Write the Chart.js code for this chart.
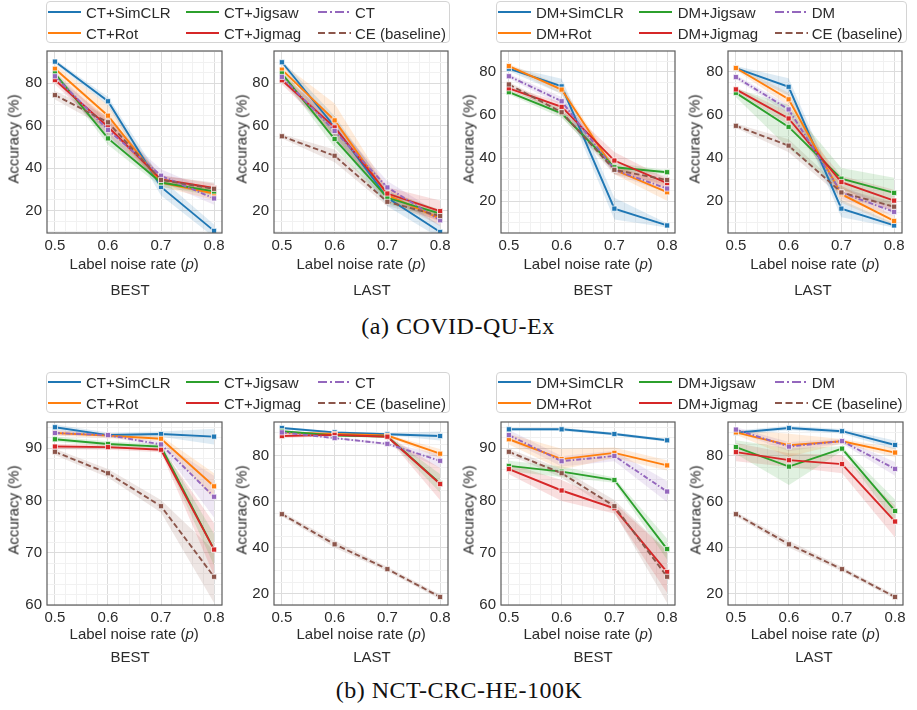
<!DOCTYPE html>
<html>
<head>
<meta charset="utf-8">
<script src="https://cdn.jsdelivr.net/npm/chart.js@4.4.0/dist/chart.umd.min.js"></script>
<style>
  body { margin: 0; background: #fff; }
  #fig { position: relative; width: 917px; height: 710px; overflow: hidden;
         font-family: "Liberation Sans", Arial, sans-serif; color: #2b2b2b; }
  .panel { position: absolute; }
  .txt { position: absolute; font-size: 15px; line-height: 1; white-space: nowrap; transform: translate(-50%, -50%); }
  .ylab { transform: translate(-50%, -50%) rotate(-90deg); }
  .legend { position: absolute; box-sizing: border-box; border: 1px solid #d4d4d4; border-radius: 4px; background: rgba(255,255,255,0.8); }
  .litem { position: absolute; font-size: 15px; line-height: 1; white-space: nowrap; transform: translateY(-50%); }
  .cap { position: absolute; font-family: "Liberation Serif", "DejaVu Serif", serif; font-size: 24px; letter-spacing: 0.5px;
         white-space: nowrap; transform: translate(-50%, -50%); color: #111; }
</style>
</head>
<body>
<div id="fig"></div>
<script>
// x values and tick labels
const noiseRates = [0.5, 0.6, 0.7, 0.8];
const yTicksCovid = [20, 40, 60, 80];
const yTicksNctBest = [60, 70, 80, 90];
const yTicksNctLast = [20, 40, 60, 80];

const ctNames = ["CT+SimCLR", "CT+Rot", "CT+Jigsaw", "CT+Jigmag", "CT", "CE (baseline)"];
const dmNames = ["DM+SimCLR", "DM+Rot", "DM+Jigsaw", "DM+Jigmag", "DM", "CE (baseline)"];

// rows: SimCLR, Rot, Jigsaw, Jigmag, CT/DM, CE
const covidCtBest = [
  [90.2, 71.5, 31.1, 10.4],
  [86.8, 64.7, 33.2, 28.0],
  [84.6, 54.0, 33.2, 29.0],
  [81.5, 59.5, 34.7, 30.6],
  [83.3, 58.0, 36.4, 25.7],
  [74.4, 61.6, 34.4, 30.2]
];
const covidCtLast = [
  [89.9, 59.5, 26.0, 9.9],
  [86.4, 62.5, 27.3, 16.2],
  [84.6, 53.7, 26.0, 18.5],
  [81.4, 59.2, 28.0, 19.7],
  [83.0, 57.5, 30.9, 15.4],
  [55.0, 45.8, 24.1, 17.4]
];
const covidDmBest = [
  [81.5, 73.3, 16.6, 8.8],
  [82.7, 71.8, 34.6, 24.2],
  [70.6, 60.8, 35.8, 33.5],
  [72.4, 63.8, 38.9, 28.4],
  [78.0, 66.4, 34.6, 25.9],
  [74.2, 61.3, 34.6, 29.9]
];
const covidDmLast = [
  [81.8, 73.1, 16.6, 8.8],
  [81.8, 67.3, 23.3, 10.9],
  [70.3, 54.5, 30.5, 23.9],
  [71.9, 58.4, 28.9, 20.3],
  [77.6, 62.6, 24.1, 15.1],
  [55.0, 45.8, 24.1, 17.5]
];
const nctCtBest = [
  [94.0, 92.5, 92.7, 92.2],
  [92.9, 92.4, 91.8, 82.7],
  [91.7, 90.8, 90.3, 70.6],
  [90.3, 90.2, 89.7, 70.6],
  [92.9, 92.5, 90.7, 80.7],
  [89.3, 85.2, 78.9, 65.4]
];
const nctCtLast = [
  [92.0, 90.1, 89.3, 88.5],
  [90.1, 89.4, 88.7, 80.8],
  [90.6, 88.7, 88.3, 67.9],
  [88.5, 89.0, 88.2, 67.6],
  [90.1, 87.6, 85.1, 77.7],
  [54.5, 41.4, 30.6, 18.5]
];
const nctDmBest = [
  [93.6, 93.6, 92.7, 91.5],
  [91.7, 87.9, 89.1, 86.7],
  [86.6, 85.5, 83.9, 70.7],
  [86.0, 81.9, 78.5, 66.3],
  [92.5, 87.5, 88.5, 81.7],
  [89.3, 85.2, 78.9, 65.4]
];
const nctDmLast = [
  [89.9, 92.0, 90.6, 84.6],
  [90.1, 84.5, 86.2, 81.3],
  [83.7, 75.2, 83.0, 55.9],
  [81.5, 78.0, 76.3, 51.3],
  [91.3, 83.9, 86.3, 74.2],
  [54.5, 41.4, 30.6, 18.5]
];

// half width of the shaded confidence band
const covidCtBestSpread = [[1, 2, 4, 3], [2, 5, 2, 3], [1, 3, 2, 2], [2, 4, 2, 2], [2, 4, 3, 3], [2, 3, 2, 3]];
const covidCtLastSpread = [[1, 5, 4, 3], [3, 8, 3, 3], [2, 4, 3, 2], [2, 4, 3, 5], [2, 4, 3, 3], [1, 3, 2, 2]];
const covidDmBestSpread = [[1, 3.5, 5, 1], [1, 2, 2, 4], [1, 2, 2, 1], [1, 2, 4, 2], [1, 2, 2, 2], [1, 2, 2, 2]];
const covidDmLastSpread = [[1, 4, 4, 1], [1, 3, 4, 2], [2, 10, 5, 7], [1, 3, 3, 5], [1, 2, 3, 2], [1, 3, 2, 2]];
const nctCtBestSpread = [[0.5, 0.5, 0.5, 1.5], [0.5, 0.5, 0.5, 2.5], [0.5, 0.5, 0.5, 3], [0.5, 0.5, 0.5, 5], [0.5, 0.3, 0.5, 4], [0.6, 0.8, 1.2, 5]];
const nctCtLastSpread = [[0.5, 0.5, 0.5, 2], [0.5, 0.5, 0.5, 2], [0.5, 0.5, 0.5, 4], [1, 0.5, 0.5, 7], [0.5, 0.5, 0.5, 3], [1, 1.5, 1, 1]];
const nctDmBestSpread = [[0.3, 0.3, 0.3, 0.3], [1, 2, 1, 1], [1, 1, 0.5, 2], [1, 2, 1, 4], [1, 1, 1, 2], [0.6, 0.8, 1.2, 5]];
const nctDmLastSpread = [[1, 1, 1, 2], [1, 5, 1, 2], [3, 8, 1, 5], [4, 3, 4, 7], [1, 2, 1, 3], [1, 1.5, 1, 1]];

const seriesColors = ["#1f77b4", "#ff7f0e", "#2ca02c", "#d62728", "#9467bd", "#8c564b"];
const seriesDash = [[], [], [], [], [5, 2, 1.5, 2], [5.5, 2.8]];
const legendDash = [[], [], [], [], [9, 3, 2, 3], [7, 3.5]];
const FONT = "'Liberation Sans', Arial, sans-serif";
const TEXT = "#2b2b2b";

const fig = document.getElementById("fig");

function rgba(hex, a) {
  const n = parseInt(hex.slice(1), 16);
  return `rgba(${n >> 16}, ${(n >> 8) & 255}, ${n & 255}, ${a})`;
}

function addText(html, x, y, cls) {
  const d = document.createElement("div");
  d.className = "txt " + (cls || "");
  d.style.left = x + "px";
  d.style.top = y + "px";
  d.innerHTML = html;
  fig.appendChild(d);
}

// axes frame on all four sides
const framePlugin = {
  id: "frame",
  afterDatasetsDraw(chart) {
    const { ctx, chartArea: a } = chart;
    ctx.save();
    ctx.strokeStyle = "#5c5c5c";
    ctx.lineWidth = 1.2;
    ctx.strokeRect(a.left, a.top, a.right - a.left, a.bottom - a.top);
    ctx.restore();
  }
};

const near = (list, v) => list.some(t => Math.abs(t - v) < 1e-6);

function makePanel(p) {
  const padL = 40, padT = 8, padR = 8, padB = 22;
  const wrap = document.createElement("div");
  wrap.className = "panel";
  wrap.style.left = (p.x - padL) + "px";
  wrap.style.top = (p.y - padT) + "px";
  const cv = document.createElement("canvas");
  cv.width = Math.round(p.w + padL + padR);
  cv.height = Math.round(p.h + padT + padB);
  wrap.appendChild(cv);
  fig.appendChild(wrap);

  const xGrid = [];
  for (let k = 0; k <= 15; k++) xGrid.push(Math.round((0.5 + 0.02 * k) * 100) / 100);
  const yGrid = [];
  for (let v = Math.ceil(p.yMin / p.yMinor) * p.yMinor; v <= p.yMax; v += p.yMinor) yGrid.push(v);

  const datasets = [];
  p.data.forEach((vals, i) => {
    const sp = p.spread[i];
    datasets.push({
      data: noiseRates.map((x, k) => ({ x, y: vals[k] - sp[k] })),
      borderColor: "transparent", pointRadius: 0, fill: false, order: 100
    });
    datasets.push({
      data: noiseRates.map((x, k) => ({ x, y: vals[k] + sp[k] })),
      borderColor: "transparent", pointRadius: 0, fill: "-1",
      backgroundColor: rgba(seriesColors[i], 0.15), order: 100
    });
  });
  p.data.forEach((vals, i) => {
    datasets.push({
      label: p.names[i],
      data: noiseRates.map((x, k) => ({ x, y: vals[k] })),
      borderColor: seriesColors[i],
      borderWidth: 1.9,
      borderDash: seriesDash[i],
      pointStyle: "rect",
      pointRadius: 3.6,
      pointBackgroundColor: seriesColors[i],
      pointBorderColor: "#fff",
      pointBorderWidth: 0.7,
      fill: false,
      order: 10 - i
    });
  });

  new Chart(cv, {
    type: "line",
    data: { datasets },
    options: {
      responsive: false,
      animation: false,
      layout: { padding: { left: 0, top: padT, right: padR, bottom: 0 } },
      plugins: { legend: { display: false }, tooltip: { enabled: false } },
      scales: {
        x: {
          type: "linear", min: 0.485, max: 0.815,
          afterBuildTicks: s => { s.ticks = xGrid.map(v => ({ value: v })); },
          afterFit: s => { s.height = padB; },
          grid: { color: c => near(noiseRates, c.tick.value) ? "#dcdcdc" : "#f1f1f1", drawTicks: false, lineWidth: 1 },
          border: { display: false },
          ticks: { autoSkip: false, maxRotation: 0, padding: 4, color: TEXT, font: { family: FONT, size: 15 },
                   callback: v => near(noiseRates, v) ? v.toFixed(1) : "" }
        },
        y: {
          min: p.yMin, max: p.yMax,
          afterBuildTicks: s => { s.ticks = yGrid.map(v => ({ value: v })); },
          afterFit: s => { s.width = padL; },
          grid: { color: c => near(p.yTicks, c.tick.value) ? "#dcdcdc" : "#f1f1f1", drawTicks: false, lineWidth: 1 },
          border: { display: false },
          ticks: { autoSkip: false, padding: 5, color: TEXT, font: { family: FONT, size: 15 },
                   callback: v => near(p.yTicks, v) ? String(v) : "" }
        }
      }
    },
    plugins: [framePlugin]
  });

  addText("Accuracy (%)", p.x - 33.5, p.y + p.h / 2, "ylab");
  addText("Label noise rate (<i>p</i>)", p.x + p.w / 2, p.y + p.h + p.xTitleDy);
  addText(p.tag, p.tagX, p.y + p.h + p.tagDy);
}

function makeLegend(names, box, lineX, textX) {
  const lg = document.createElement("div");
  lg.className = "legend";
  lg.style.left = box.x + "px";
  lg.style.top = box.y + "px";
  lg.style.width = box.w + "px";
  lg.style.height = box.h + "px";
  fig.appendChild(lg);
  const rowsY = [box.y + 10.5, box.y + 31.5];
  names.forEach((name, i) => {
    const col = Math.floor(i / 2), row = i % 2;
    const svg = document.createElementNS("http://www.w3.org/2000/svg", "svg");
    svg.setAttribute("width", "33");
    svg.setAttribute("height", "6");
    svg.style.position = "absolute";
    svg.style.left = lineX[col] + "px";
    svg.style.top = (rowsY[row] - 3) + "px";
    const ln = document.createElementNS("http://www.w3.org/2000/svg", "line");
    ln.setAttribute("x1", "0"); ln.setAttribute("x2", "33");
    ln.setAttribute("y1", "3"); ln.setAttribute("y2", "3");
    ln.setAttribute("stroke", seriesColors[i]);
    ln.setAttribute("stroke-width", "2.2");
    if (legendDash[i].length) ln.setAttribute("stroke-dasharray", legendDash[i].join(" "));
    svg.appendChild(ln);
    fig.appendChild(svg);
    const t = document.createElement("div");
    t.className = "litem";
    t.style.left = textX[col] + "px";
    t.style.top = rowsY[row] + "px";
    t.textContent = name;
    fig.appendChild(t);
  });
}

const row1 = { y: 45, h: 188.3, xTitleDy: 30, tagDy: 56 };
const row2 = { y: 415.7, h: 188.6, xTitleDy: 29, tagDy: 51.5 };

const panels = [
  { ...row1, x: 46.7, w: 175, names: ctNames, data: covidCtBest, spread: covidCtBestSpread, yMin: 9.4, yMax: 95.2, yTicks: yTicksCovid, yMinor: 5, tag: "BEST", tagX: 130 },
  { ...row1, x: 274, w: 174.3, names: ctNames, data: covidCtLast, spread: covidCtLastSpread, yMin: 9.4, yMax: 95.2, yTicks: yTicksCovid, yMinor: 5, tag: "LAST", tagX: 372 },
  { ...row1, x: 501, w: 174.3, names: dmNames, data: covidDmBest, spread: covidDmBestSpread, yMin: 5.3, yMax: 89.7, yTicks: yTicksCovid, yMinor: 5, tag: "BEST", tagX: 593 },
  { ...row1, x: 727.7, w: 174.3, names: dmNames, data: covidDmLast, spread: covidDmLastSpread, yMin: 5.3, yMax: 89.7, yTicks: yTicksCovid, yMinor: 5, tag: "LAST", tagX: 813 },
  { ...row2, x: 46.7, w: 175, names: ctNames, data: nctCtBest, spread: nctCtBestSpread, yMin: 60, yMax: 95, yTicks: yTicksNctBest, yMinor: 2, tag: "BEST", tagX: 130 },
  { ...row2, x: 274, w: 174.3, names: ctNames, data: nctCtLast, spread: nctCtLastSpread, yMin: 15, yMax: 94.6, yTicks: yTicksNctLast, yMinor: 5, tag: "LAST", tagX: 372 },
  { ...row2, x: 501, w: 174.3, names: dmNames, data: nctDmBest, spread: nctDmBestSpread, yMin: 60, yMax: 95, yTicks: yTicksNctBest, yMinor: 2, tag: "BEST", tagX: 593 },
  { ...row2, x: 728, w: 174.5, names: dmNames, data: nctDmLast, spread: nctDmLastSpread, yMin: 15, yMax: 94.6, yTicks: yTicksNctLast, yMinor: 5, tag: "LAST", tagX: 814 }
];
panels.forEach(makePanel);

makeLegend(ctNames, { x: 45.7, y: 1, w: 404.5, h: 42.3 }, [48, 185.7, 318.3], [86, 224, 355]);
makeLegend(dmNames, { x: 496, y: 1, w: 410.7, h: 42.3 }, [498.3, 639.3, 775], [536, 677.7, 811.7]);
makeLegend(ctNames, { x: 45.7, y: 371.7, w: 404.5, h: 41.6 }, [48, 185.7, 318.3], [86, 224, 355]);
makeLegend(dmNames, { x: 496, y: 371.7, w: 410.7, h: 41.6 }, [498.3, 639.3, 775], [536, 677.7, 811.7]);

const cap1 = document.createElement("div");
cap1.className = "cap"; cap1.style.left = "458px"; cap1.style.top = "326px";
cap1.textContent = "(a) COVID-QU-Ex";
fig.appendChild(cap1);
const cap2 = document.createElement("div");
cap2.className = "cap"; cap2.style.left = "459px"; cap2.style.top = "690px";
cap2.textContent = "(b) NCT-CRC-HE-100K";
fig.appendChild(cap2);
</script>
</body>
</html>
